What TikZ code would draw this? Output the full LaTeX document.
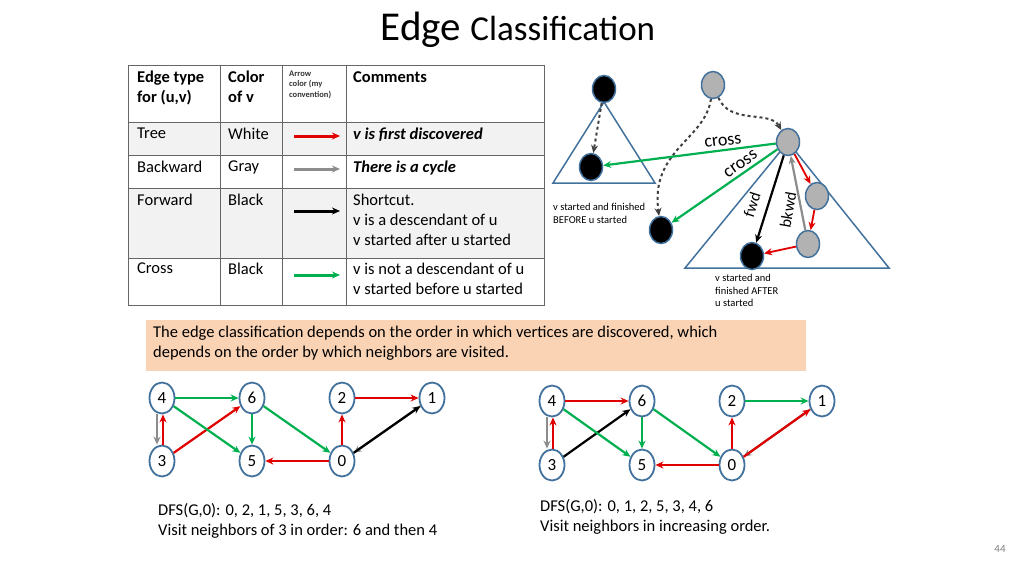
\documentclass[tikz,border=0pt]{standalone}
\usepackage{fontspec}
\setmainfont{Carlito}
\usetikzlibrary{arrows.meta,shapes.geometric}
\definecolor{nodeblue}{HTML}{41719C}
\definecolor{tgreen}{HTML}{00B050}
\definecolor{tred}{HTML}{E00000}
\definecolor{tgray}{HTML}{8C8C8C}
\definecolor{peach}{HTML}{FAD3B4}
\definecolor{rowgray}{HTML}{F2F2F2}
\newcommand{\fs}[1]{\fontsize{#1}{\dimexpr#1pt*6/5\relax}\selectfont}
\begin{document}
\begin{tikzpicture}[x=1pt,y=-1pt,>={Stealth[length=8pt,width=7pt]},
  gnode/.style={ellipse,draw=nodeblue,line width=1.8pt,fill=white,minimum width=25pt,minimum height=31pt,inner sep=0pt,font=\fs{17}},
  tnode/.style={ellipse,draw=nodeblue,line width=1.5pt,minimum width=23pt,minimum height=27pt,inner sep=0pt},
  tree/.style={->,line width=2.2pt,tred},
  back/.style={->,line width=2.2pt,tgray},
  fwd/.style={->,line width=2.2pt,black},
  cross/.style={->,line width=2.2pt,tgreen},
  cell/.style={anchor=north west,font=\fs{16.5},align=left,inner sep=0pt}]
\useasboundingbox (0,0) rectangle (1024,576);
% title
\node (title) at (518,30) {\fs{41}Edge \fs{35}Classification};
% table
\fill[rowgray] (128,122) rectangle (544,155);
\fill[rowgray] (128,188) rectangle (544,258);
\draw[gray!80!black,thick] (128,65) rectangle (544,305);
\foreach \y in {122,155,188,258} \draw[gray!80!black,thick] (128,\y) -- (544,\y);
\foreach \x in {220,282,346} \draw[gray!80!black,thick] (\x,65) -- (\x,305);
\node[cell,font=\fs{16.5}\bfseries] (h1) at (137,71) {Edge type\\for (u,v)};
\node[cell,font=\fs{16.5}\bfseries] (h2) at (228,71) {Color\\of v};
\node[cell,font=\fs{8.5}\bfseries,text=black!80] (h3) at (289,71) {Arrow\\color (my\\convention)};
\node[cell,font=\fs{16.5}\bfseries] (h4) at (353,71) {Comments};
\node[cell] (r1a) at (137,128) {Tree};
\node[cell] (r1b) at (228,128) {White};
\node[cell,font=\fs{16.5}\bfseries\itshape] (r1c) at (353,128) {v is first discovered};
\node[cell] (r2a) at (137,161) {Backward};
\node[cell] (r2b) at (228,161) {Gray};
\node[cell,font=\fs{16.5}\bfseries\itshape] (r2c) at (353,161) {There is a cycle};
\node[cell] (r3a) at (137,194) {Forward};
\node[cell] (r3b) at (228,194) {Black};
\node[cell] (r3c) at (353,194) {Shortcut.\\v is a descendant of u\\v started after u started};
\node[cell] (r4a) at (137,263) {Cross};
\node[cell] (r4b) at (228,263) {Black};
\node[cell] (r4c) at (353,263) {v is not a descendant of u\\v started before u started};
\draw[tree,line width=3pt] (294,136) -- (340,136);
\draw[back,line width=3pt] (294,169) -- (340,169);
\draw[fwd,line width=3pt] (294,211) -- (340,211);
\draw[cross,line width=3pt] (294,275) -- (340,275);
% trees
\draw[nodeblue,line width=1.5pt] (604,102) -- (655,183) -- (553,183) -- cycle;
\draw[nodeblue,line width=1.5pt] (788,142) -- (889,268) -- (685,268) -- cycle;
\node[tnode,fill=black] (a) at (604,89) {};
\node[tnode,fill=black] (b) at (591,167) {};
\node[tnode,fill=gray!60] (c) at (713,85) {};
\node[tnode,fill=black] (d) at (661,230) {};
\node[tnode,fill=gray!60] (u) at (788,142) {};
\node[tnode,fill=gray!60] (e) at (817,196) {};
\node[tnode,fill=gray!60] (f) at (808,244) {};
\node[tnode,fill=black] (v) at (752,256) {};
\draw[->,line width=2pt,dashed,black!75] (a) -- (b);
\draw[->,line width=2pt,dashed,black!75] (c) .. controls (705,140) and (650,150) .. (d);
\draw[->,line width=2pt,dashed,black!75] (c) .. controls (730,125) and (770,110) .. (u);
\draw[cross] (u) -- node[above,sloped,font=\fs{18},text=black,pos=0.3] {cross} (b);
\draw[cross] (u) -- node[above,sloped,font=\fs{18},text=black,pos=0.3] {cross} (d);
\draw[fwd] (u) -- (v);
\draw[back] (f) -- (u);
\node[rotate=72,font=\fs{16}] (fwdl) at (752,205) {fwd};
\node[rotate=80,font=\fs{16}] (bkwdl) at (788,210) {bkwd};
\draw[tree,line width=1.8pt] (u) -- (e);
\draw[tree,line width=1.8pt] (e) -- (f);
\draw[tree,line width=1.8pt] (f) -- (v);
\node[cell,font=\fs{10.5}] (lb) at (553,203) {v started and finished\\BEFORE u started};
\node[cell,font=\fs{10.5}] (la) at (715,274) {v started and\\finished AFTER\\u started};
% note
\node[fill=peach,minimum width=660pt,minimum height=51pt,anchor=north west] (note) at (146,320) {};
\node[cell] (notetxt) at (153,326) {The edge classification depends on the order in which vertices are discovered, which\\depends on the order by which neighbors are visited.};
% left graph
\node[gnode] (l4) at (162,398) {4};
\node[gnode] (l6) at (252,398) {6};
\node[gnode] (l2) at (342,398) {2};
\node[gnode] (l1) at (432,398) {1};
\node[gnode] (l3) at (162,461) {3};
\node[gnode] (l5) at (252,461) {5};
\node[gnode] (l0) at (342,461) {0};
\draw[cross] (l4) -- (l6);
\draw[back] ([xshift=-5pt]l4.south) -- ([xshift=-5pt]l3.north);
\draw[tree] ([xshift=1pt]l3.north) -- ([xshift=1pt]l4.south);
\draw[tree] (l3) -- (l6);
\draw[cross] (l4) -- (l5);
\draw[cross] (l6) -- (l5);
\draw[cross] (l6) -- (l0);
\draw[tree] (l0) -- (l2);
\draw[tree] (l2) -- (l1);
\draw[back] (l1) -- (l0);
\draw[fwd] (l0) -- (l1);
\draw[tree] (l0) -- (l5);
% right graph
\node[gnode] (r4) at (552,401) {4};
\node[gnode] (r6) at (642,401) {6};
\node[gnode] (r2) at (732,401) {2};
\node[gnode] (r1) at (822,401) {1};
\node[gnode] (r3) at (552,465) {3};
\node[gnode] (r5) at (642,465) {5};
\node[gnode] (r0) at (732,465) {0};
\draw[tree] (r4) -- (r6);
\draw[back] ([xshift=-5pt]r4.south) -- ([xshift=-5pt]r3.north);
\draw[tree] ([xshift=1pt]r3.north) -- ([xshift=1pt]r4.south);
\draw[fwd] (r3) -- (r6);
\draw[cross] (r4) -- (r5);
\draw[cross] (r6) -- (r5);
\draw[cross] (r6) -- (r0);
\draw[tree] (r0) -- (r2);
\draw[cross] (r2) -- (r1);
\draw[back] (r1) -- (r0);
\draw[tree] (r0) -- (r1);
\draw[tree] (r0) -- (r5);
% captions
\node[cell] (capl) at (158,503) {DFS(G,0): 0, 2, 1, 5, 3, 6, 4\\Visit neighbors of 3 in order: 6 and then 4};
\node[cell] (capr) at (540,499) {DFS(G,0): 0, 1, 2, 5, 3, 4, 6\\Visit neighbors in increasing order.};
\node[font=\fs{11},text=gray] (page) at (1000,549) {44};
\end{tikzpicture}
\end{document}
